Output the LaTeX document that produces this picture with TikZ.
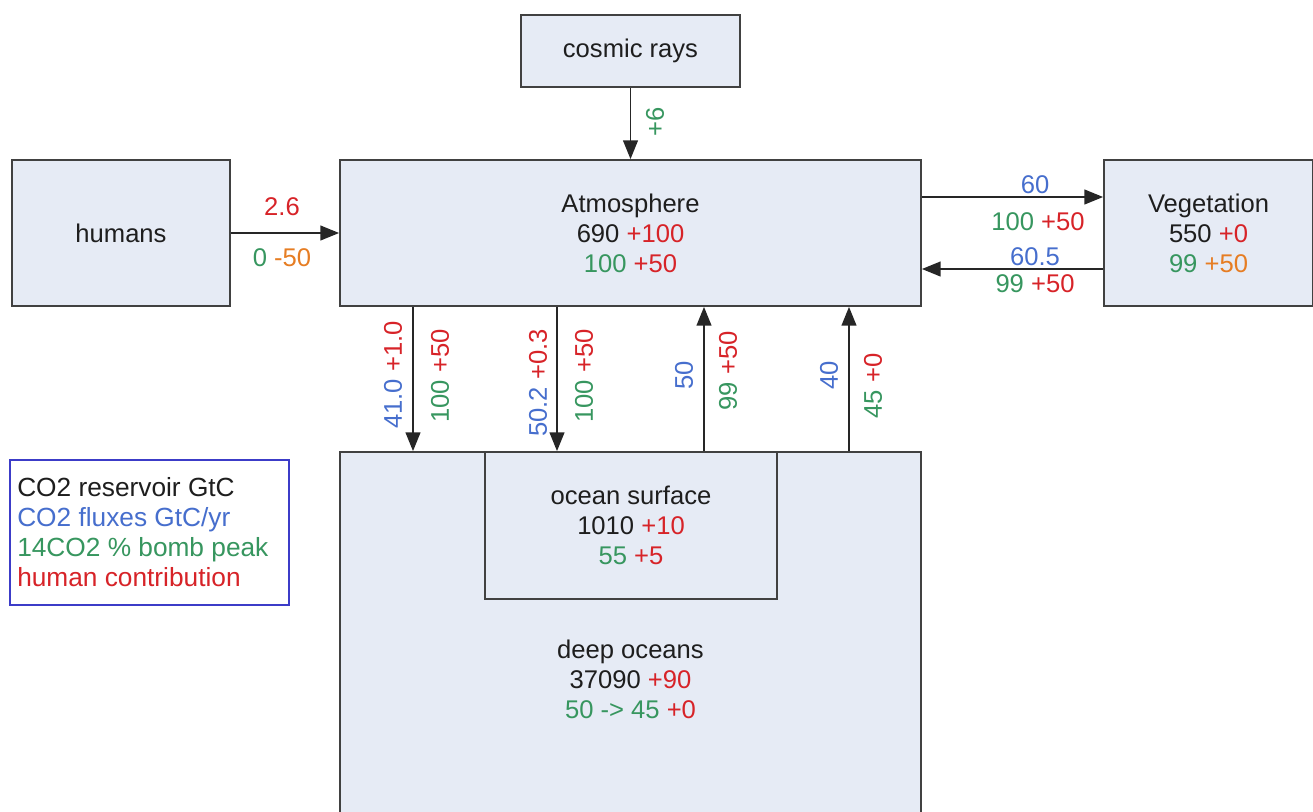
\documentclass[tikz,border=0pt]{standalone}
\usepackage{fontspec}
\setmainfont{Liberation Sans}
\usetikzlibrary{arrows.meta}
\definecolor{cblue}{RGB}{70,110,205}
\definecolor{cgreen}{RGB}{55,150,95}
\definecolor{cred}{RGB}{215,35,40}
\definecolor{corange}{RGB}{230,125,35}
\definecolor{boxfill}{RGB}{230,235,245}
\definecolor{boxline}{RGB}{65,65,65}
\definecolor{legline}{RGB}{60,60,200}
\definecolor{ctext}{RGB}{30,30,30}
\tikzset{
  box/.style={draw=boxline, fill=boxfill, line width=1.3pt, inner sep=0pt, align=center, text=ctext, font=\fontsize{19.2pt}{22.5pt}\selectfont},
  lbl/.style={inner sep=0pt, font=\fontsize{19.2pt}{22.5pt}\selectfont},
  vlbl/.style={lbl, rotate=90},
  flow/.style={draw=black!85, line width=1.4pt, -{Triangle[length=14pt,width=11pt]}}
}
\begin{document}
\begin{tikzpicture}[x=0.75pt,y=-0.75pt]
\useasboundingbox (0,0) rectangle (1313,811);
% boxes
\node[box, minimum width=164.25pt, minimum height=54pt] (cosmic) at (630.5,51) {cosmic rays};
\node[box, minimum width=163.5pt, minimum height=109.5pt] (humans) at (121,233) {humans};
\node[box, minimum width=435.75pt, minimum height=109.5pt] (atmos) at (630.5,233) {Atmosphere\\690 \textcolor{cred}{+100}\\\textcolor{cgreen}{100} \textcolor{cred}{+50}};
\node[box, minimum width=156.75pt, minimum height=109.5pt] (veg) at (1208.5,233) {Vegetation\\550 \textcolor{cred}{+0}\\\textcolor{cgreen}{99} \textcolor{corange}{+50}};
\node[box, minimum width=435.75pt, minimum height=274.5pt] (deep) at (630.5,635) {};
\node[lbl, align=center, text=ctext] (deeptext) at (630.5,679) {deep oceans\\37090 \textcolor{cred}{+90}\\\textcolor{cgreen}{50 -> 45} \textcolor{cred}{+0}};
\node[box, minimum width=219pt, minimum height=110.25pt] (osurf) at (631,525.5) {ocean surface\\1010 \textcolor{cred}{+10}\\\textcolor{cgreen}{55} \textcolor{cred}{+5}};
% legend
\node[draw=legline, line width=1pt, fill=white, minimum width=209.25pt, minimum height=108.75pt, inner sep=0pt] (legend) at (149.5,532.5) {};
\node[lbl, anchor=west, align=left, font=\fontsize{19.7pt}{22.5pt}\selectfont] (legtext) at (17,532) {\textcolor{ctext}{CO2 reservoir GtC}\\\textcolor{cblue}{CO2 fluxes GtC/yr}\\\textcolor{cgreen}{14CO2 \% bomb peak}\\\textcolor{cred}{human contribution}};
% helper x positions
\coordinate (x1) at (413,0);
\coordinate (x2) at (557,0);
\coordinate (x3) at (704,0);
\coordinate (x4) at (849,0);
\coordinate (y1) at (0,197);
\coordinate (y2) at (0,269);
% connectors
\draw[flow] (cosmic.south) -- (atmos.north);
\draw[flow] (humans.east) -- (atmos.west);
\draw[flow] (atmos.east |- y1) -- (veg.west |- y1);
\draw[flow] (veg.west |- y2) -- (atmos.east |- y2);
\draw[flow] (atmos.south -| x1) -- (deep.north -| x1);
\draw[flow] (atmos.south -| x2) -- (osurf.north -| x2);
\draw[flow] (osurf.north -| x3) -- (atmos.south -| x3);
\draw[flow] (deep.north -| x4) -- (atmos.south -| x4);
% flow labels
\node[vlbl, text=cgreen] (l0) at (655,122) {+6};
\node[lbl, text=cred] (l1) at (282,207) {2.6};
\node[lbl] (l2) at (282,258) {\textcolor{cgreen}{0} \textcolor{corange}{-50}};
\node[lbl, text=cblue] (l3) at (1035,185) {60};
\node[lbl] (l4) at (1038,222) {\textcolor{cgreen}{100} \textcolor{cred}{+50}};
\node[lbl, text=cblue] (l5) at (1035,257) {60.5};
\node[lbl] (l6) at (1035,284) {\textcolor{cgreen}{99} \textcolor{cred}{+50}};
\node[vlbl] (l7) at (393,375) {\textcolor{cblue}{41.0} \textcolor{cred}{+1.0}};
\node[vlbl] (l8) at (440,376) {\textcolor{cgreen}{100} \textcolor{cred}{+50}};
\node[vlbl] (l9) at (538,383) {\textcolor{cblue}{50.2} \textcolor{cred}{+0.3}};
\node[vlbl] (l10) at (584,376) {\textcolor{cgreen}{100} \textcolor{cred}{+50}};
\node[vlbl, text=cblue] (l11) at (684,375) {50};
\node[vlbl] (l12) at (728,371) {\textcolor{cgreen}{99} \textcolor{cred}{+50}};
\node[vlbl, text=cblue] (l13) at (829,375) {40};
\node[vlbl] (l14) at (873,386) {\textcolor{cgreen}{45} \textcolor{cred}{+0}};
\end{tikzpicture}
\end{document}
